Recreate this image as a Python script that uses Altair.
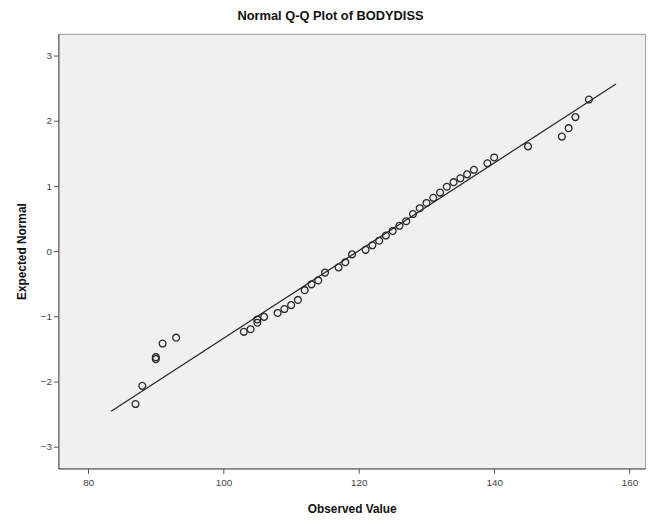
import altair as alt
import pandas as pd

obs = [87, 88, 90, 90, 91, 93,
       103, 104, 105, 105, 106, 108, 109, 110, 111, 112, 113, 114, 115, 117, 118, 119,
       121, 122, 123, 124, 125, 126, 127, 128, 129, 130, 131, 132, 133, 134, 135, 136, 137,
       139, 140, 145, 150, 151, 152, 154]
expected = [-2.35, -2.07, -1.66, -1.63, -1.42, -1.33,
            -1.24, -1.20, -1.10, -1.05, -1.01, -0.95, -0.89, -0.83, -0.75, -0.60, -0.51, -0.45, -0.33, -0.25, -0.17, -0.05,
            0.02, 0.09, 0.16, 0.24, 0.31, 0.39, 0.46, 0.57, 0.66, 0.74, 0.82, 0.90, 0.99, 1.06, 1.12, 1.18, 1.25,
            1.35, 1.44, 1.61, 1.76, 1.89, 2.06, 2.33]

# Reference line end points
line_x = [83.4, 158.0]
line_y = [-2.46, 2.57]

x_ticks = [80, 100, 120, 140, 160]
y_ticks = [-3, -2, -1, 0, 1, 2, 3]

pts = pd.DataFrame({"obs": obs, "exp": expected})
ln = pd.DataFrame({"obs": line_x, "exp": line_y})

xs = alt.Scale(domain=[75.6, 162.3], nice=False, zero=False)
ys = alt.Scale(domain=[-3.34, 3.34], nice=False, zero=False)

xax = alt.Axis(values=x_ticks, title="Observed Value", grid=False, tickSize=5,
               labelPadding=4, titleY=41, titleBaseline="middle", titleAlign="center")
yax = alt.Axis(values=y_ticks, title="Expected Normal", grid=False, tickSize=5,
               labelPadding=2, titleX=-37, titleY=220, titleAngle=270,
               titleAlign="center", titleBaseline="middle")

line = alt.Chart(ln).mark_line(color="#2a2a2a", strokeWidth=1.3).encode(
    x=alt.X("obs:Q", scale=xs, axis=xax),
    y=alt.Y("exp:Q", scale=ys, axis=yax),
)

points = alt.Chart(pts).mark_point(shape="circle", filled=False, color="#2a2a2a",
                                   size=48, strokeWidth=1.3, opacity=1).encode(
    x=alt.X("obs:Q", scale=xs, axis=xax),
    y=alt.Y("exp:Q", scale=ys, axis=yax),
)

chart = (line + points).properties(
    width=594, height=440,
    padding={"left": 51, "top": 23, "right": 8, "bottom": 45},
    autosize=alt.AutoSizeParams(type="none"),
    title=alt.TitleParams("Normal Q-Q Plot of BODYDISS", fontSize=13, fontWeight="bold",
                          font="Liberation Sans", color="#111111", offset=11,
                          anchor="middle", frame="bounds"),
).configure_view(
    fill="#f0f0f0", stroke="#999999", strokeWidth=1
).configure_axis(
    labelFont="Liberation Sans", labelFontSize=10, labelColor="#444444",
    titleFont="Liberation Sans", titleFontSize=12, titleFontWeight="bold", titleColor="#111111",
    domainColor="#555555", tickColor="#555555", domainWidth=1
)

chart.save("out.html", embed_options={"renderer": "svg", "actions": False})
